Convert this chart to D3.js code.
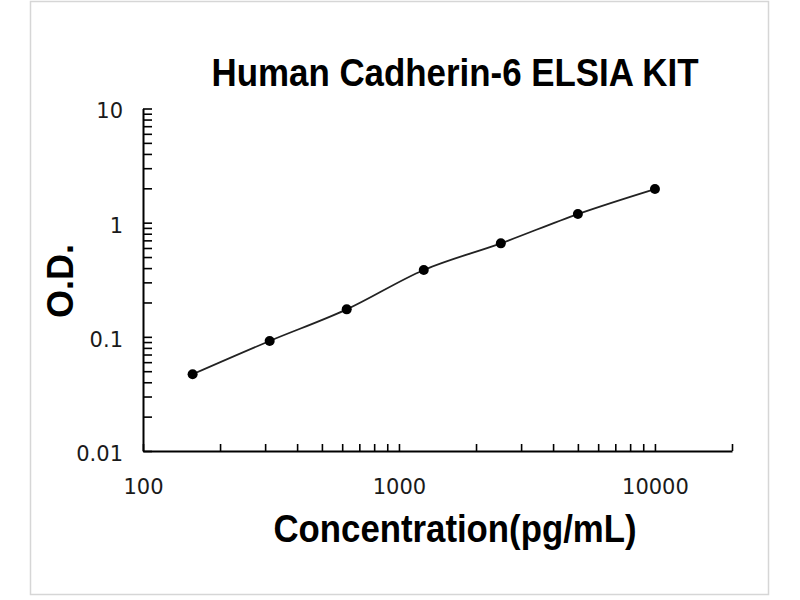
<!DOCTYPE html>
<html lang="en">
<head>
<meta charset="UTF-8">
<title>Human Cadherin-6 ELSIA KIT</title>
<script src="https://cdn.jsdelivr.net/npm/d3@7"></script>
<style>
  body { margin: 0; background: #fff; }
  svg { display: block; }
</style>
</head>
<body>
<div id="chart"></div>
<script>
// standard curve data (pg/mL vs O.D.)
var concentration = [156.25, 312.5, 625, 1250, 2500, 5000, 10000];
var od = [0.047, 0.092, 0.174, 0.385, 0.659, 1.19, 1.97];

// axis ticks
var xTicks = [100, 200, 300, 400, 500, 600, 700, 800, 900,
              1000, 2000, 3000, 4000, 5000, 6000, 7000, 8000, 9000,
              10000, 20000];
var xLabels = ["100", "1000", "10000"];
var yTicks = [0.01, 0.02, 0.03, 0.04, 0.05, 0.06, 0.07, 0.08, 0.09,
              0.1, 0.2, 0.3, 0.4, 0.5, 0.6, 0.7, 0.8, 0.9,
              1, 2, 3, 4, 5, 6, 7, 8, 9, 10];
var yLabels = ["0.01", "0.1", "1", "10"];

var w = 800, h = 600;

var svg = d3.select("#chart").append("svg")
    .attr("width", w)
    .attr("height", h);

// light frame round the picture
svg.append("rect")
    .attr("x", 30.5)
    .attr("y", 1.5)
    .attr("width", 738)
    .attr("height", 593)
    .attr("fill", "none")
    .attr("stroke", "#d6d6d6")
    .attr("stroke-width", 1.5);

var xScale = d3.scaleLog()
    .domain([100, 20000])
    .range([143, 732]);

var yScale = d3.scaleLog()
    .domain([0.01, 10])
    .range([451, 108.5]);

// x axis, ticks pointing up
var xAxis = svg.append("g")
    .attr("transform", "translate(0,451)")
    .call(d3.axisBottom(xScale)
        .tickValues(xTicks)
        .tickSizeInner(-7)
        .tickSizeOuter(0)
        .tickFormat(function(d) {
            return xLabels.indexOf(String(d)) >= 0 ? String(d) : "";
        }));

xAxis.selectAll("text")
    .attr("y", 43)
    .attr("dy", 0)
    .style("font-family", "'DejaVu Sans', sans-serif")
    .style("font-size", "21px")
    .attr("fill", "#1a1a1a");

// y axis, ticks pointing right
var yAxis = svg.append("g")
    .attr("transform", "translate(143,0)")
    .call(d3.axisLeft(yScale)
        .tickValues(yTicks)
        .tickSizeInner(-9)
        .tickSizeOuter(0)
        .tickFormat(function(d) {
            var s = String(+d.toPrecision(2));
            return yLabels.indexOf(s) >= 0 ? s : "";
        }));

yAxis.selectAll("text")
    .attr("x", -20)
    .attr("dy", "0.45em")
    .style("font-family", "'DejaVu Sans', sans-serif")
    .style("font-size", "21px")
    .attr("fill", "#1a1a1a");

svg.selectAll(".domain")
    .attr("stroke", "#000")
    .attr("stroke-width", 2);
svg.selectAll(".tick line")
    .attr("stroke", "#000")
    .attr("stroke-width", 1.6);

// curve
var points = concentration.map(function(c, i) { return [c, od[i]]; });

var line = d3.line()
    .x(function(d) { return xScale(d[0]); })
    .y(function(d) { return yScale(d[1]); })
    .curve(d3.curveMonotoneX);

svg.append("path")
    .datum(points)
    .attr("d", line)
    .attr("fill", "none")
    .attr("stroke", "#222")
    .attr("stroke-width", 1.8);

svg.selectAll("circle.dot")
    .data(points)
    .enter()
    .append("circle")
    .attr("class", "dot")
    .attr("cx", function(d) { return xScale(d[0]); })
    .attr("cy", function(d) { return yScale(d[1]); })
    .attr("r", 5)
    .attr("fill", "#000");

// titles
svg.append("text")
    .attr("x", 455)
    .attr("y", 86)
    .attr("text-anchor", "middle")
    .attr("textLength", 487)
    .attr("lengthAdjust", "spacingAndGlyphs")
    .style("font-family", "'Liberation Sans', Arial, sans-serif")
    .style("font-size", "39px")
    .style("font-weight", "bold")
    .text("Human Cadherin-6 ELSIA KIT");

svg.append("text")
    .attr("x", 455)
    .attr("y", 542)
    .attr("text-anchor", "middle")
    .attr("textLength", 363)
    .attr("lengthAdjust", "spacingAndGlyphs")
    .style("font-family", "'Liberation Sans', Arial, sans-serif")
    .style("font-size", "39px")
    .style("font-weight", "bold")
    .text("Concentration(pg/mL)");

svg.append("text")
    .attr("transform", "translate(73,281) rotate(-90)")
    .attr("text-anchor", "middle")
    .style("font-family", "'Liberation Sans', Arial, sans-serif")
    .style("font-size", "36px")
    .style("font-weight", "bold")
    .text("O.D.");
</script>
</body>
</html>
